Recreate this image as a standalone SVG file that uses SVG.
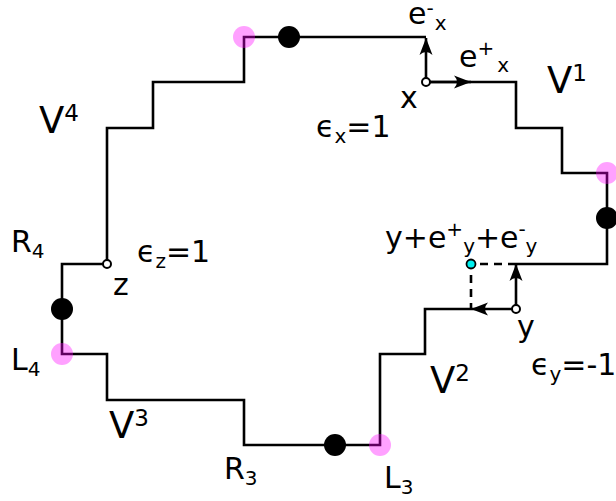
<svg xmlns="http://www.w3.org/2000/svg" width="616" height="501" viewBox="0 0 616 501">
<style>
.ln{fill:none;stroke:#000;stroke-width:2.6;stroke-linejoin:miter;stroke-linecap:butt}
.dash{fill:none;stroke:#000;stroke-width:2.6;stroke-dasharray:8,6}
.arr{fill:none;stroke:#000;stroke-width:2.6;marker-end:url(#ah)}
.pink{fill:#ff00ff;fill-opacity:0.37}
.blk{fill:#000}
.open{fill:#fff;stroke:#000;stroke-width:2}
.cyan{fill:#00f0f0;stroke:#000;stroke-width:1.8}
text{font-family:"DejaVu Sans","Liberation Sans",sans-serif;font-size:30px;fill:#000}
.big{font-size:37px}
.s{font-size:20px}
.bs{font-size:23px}
</style>
<defs>
<marker id="ah" viewBox="-18 -7 19 14" markerWidth="19" markerHeight="14" refX="0" refY="0" orient="auto" markerUnits="userSpaceOnUse">
<path d="M0,0 L-17,-6.5 Q-11,0 -17,6.5 Z" fill="#000"/>
</marker>
</defs>
<g id="connectors">
<path class="ln" d="M426,82 H516 V128 H562 V173 H607 V264 H516 M471,309 H425 V354 H380 V445 H244 V400 H107 V354 H62 V264 H107 V128 H153 V82 H244 V37 H426"/>
<path class="dash" d="M516,264 H471 V309"/>
<line class="arr" x1="426" y1="82" x2="426" y2="38"/>
<line class="arr" x1="426" y1="82" x2="471" y2="82"/>
<line class="arr" x1="516" y1="309" x2="516" y2="264"/>
<line class="arr" x1="516" y1="309" x2="471" y2="309"/>
</g>
<g id="dot-top"><circle class="blk" cx="289" cy="37" r="11"/></g>
<g id="dot-right"><circle class="blk" cx="607" cy="218" r="11"/></g>
<g id="dot-bottom"><circle class="blk" cx="335" cy="445" r="11"/></g>
<g id="dot-left"><circle class="blk" cx="62" cy="309" r="11"/></g>
<g id="pink-top"><circle class="pink" cx="244" cy="37" r="11"/></g>
<g id="pink-right"><circle class="pink" cx="607" cy="173" r="11"/></g>
<g id="pink-L3"><circle class="pink" cx="380" cy="445" r="11"/></g>
<g id="pink-L4"><circle class="pink" cx="62" cy="354" r="11"/></g>
<g id="node-x"><circle class="open" cx="426" cy="82" r="4"/></g>
<g id="node-y"><circle class="open" cx="516" cy="309" r="4"/></g>
<g id="node-z"><circle class="open" cx="107" cy="264" r="4"/></g>
<g id="node-yee"><circle class="cyan" cx="471" cy="264" r="4.5"/></g>
<g id="labels">
<text x="408" y="24">e<tspan class="s" dy="-9">-</tspan><tspan class="s" dx="1" dy="15">x</tspan></text>
<text x="459" y="67">e<tspan class="s" dy="-12">+</tspan><tspan class="s" dx="3" dy="17">x</tspan></text>
<text x="400" y="108">x</text>
<text class="big" x="547" y="93">V<tspan class="bs" dy="-12">1</tspan></text>
<text x="316" y="137">ϵ<tspan class="s" dy="6">x</tspan><tspan dy="-6">=1</tspan></text>
<text class="big" x="39" y="133">V<tspan class="bs" dy="-12">4</tspan></text>
<text x="11" y="252">R<tspan class="s" dy="6">4</tspan></text>
<text x="137" y="262">ϵ<tspan class="s" dy="6">z</tspan><tspan dy="-6">=1</tspan></text>
<text x="113" y="295">z</text>
<text x="11" y="370">L<tspan class="s" dy="6">4</tspan></text>
<text class="big" x="109" y="438">V<tspan class="bs" dy="-12">3</tspan></text>
<text x="224" y="479">R<tspan class="s" dy="6">3</tspan></text>
<text x="384" y="488">L<tspan class="s" dy="6">3</tspan></text>
<text class="big" x="430" y="393">V<tspan class="bs" dy="-12">2</tspan></text>
<text x="517" y="337">y</text>
<text x="531" y="375">ϵ<tspan class="s" dy="6">y</tspan><tspan dy="-6">=-1</tspan></text>
<text x="385" y="248">y+e<tspan class="s" dy="-12">+</tspan><tspan class="s" dy="17">y</tspan><tspan dy="-5">+e</tspan><tspan class="s" dy="-12">-</tspan><tspan class="s" dy="17">y</tspan></text>
</g>
</svg>
